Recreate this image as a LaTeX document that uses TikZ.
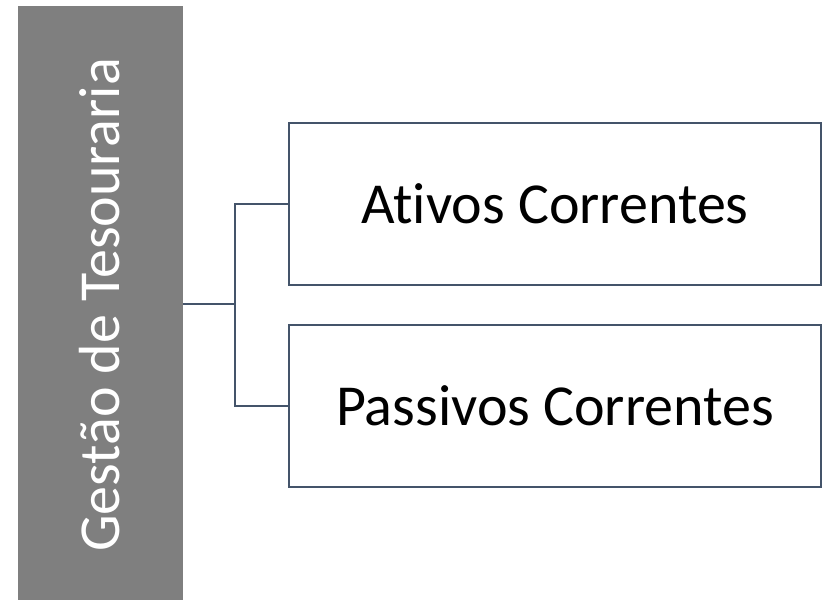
\documentclass[tikz,border=0pt]{standalone}
\usepackage{fontspec}
\setmainfont{Carlito}[Ligatures=NoCommon]
\definecolor{linegray}{HTML}{44546A}
\definecolor{bargray}{HTML}{7F7F7F}
\begin{document}
\begin{tikzpicture}[x=1pt,y=-1pt,
  rootbar/.style={fill=bargray,draw=none,minimum width=165pt,minimum height=594pt,inner sep=0pt},
  roottext/.style={text=white,font=\fontsize{58}{60}\selectfont,rotate=90},
  childbox/.style={draw=linegray,line width=2pt,fill=white,minimum width=532pt,minimum height=162pt,inner sep=0pt,font=\fontsize{58}{60}\selectfont},
  link/.style={draw=linegray,line width=2pt}]
  \useasboundingbox (0,0) rectangle (825,600);
  \node[rootbar] (root) at (100.5,303) {};
  \node[roottext] (rootlabel) at (100,305) {Gestão de Tesouraria};
  \node[childbox] (ativos) at (555,203.5) {Ativos Correntes};
  \node[childbox] (passivos) at (555,405.5) {Passivos Correntes};
  \coordinate (fork) at (235,304);
  \draw[link] (root.east |- fork) -- (fork);
  \draw[link] (ativos.west) -| (fork) |- (passivos.west);
\end{tikzpicture}
\end{document}
